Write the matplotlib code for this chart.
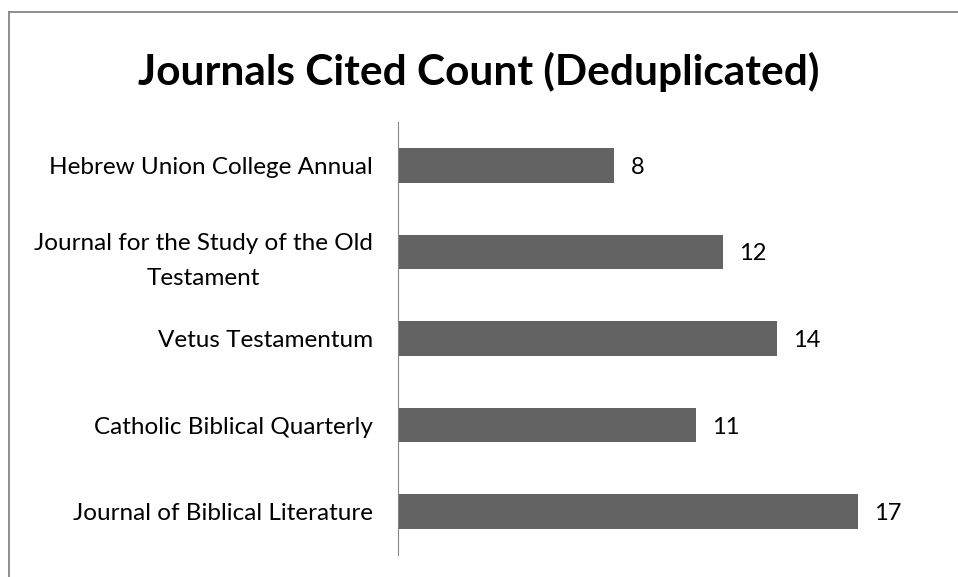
import matplotlib.pyplot as plt
from matplotlib.lines import Line2D

# Journal counts, bottom to top as drawn
journals = ['Journal of Biblical Literature',
            'Catholic Biblical Quarterly',
            'Vetus Testamentum',
            'Journal for the Study of the Old\nTestament',
            'Hebrew Union College Annual']
counts = [17, 11, 14, 12, 8]

plt.rcParams['font.family'] = ['Lato', 'DejaVu Sans']

fig = plt.figure(figsize=(9.58, 5.77), dpi=100)
ax = fig.add_axes([398 / 958, 22 / 577, 500 / 958, 433 / 577])

ypos = list(range(len(journals)))
ax.barh(ypos, counts, height=0.4, color='#636363')
for y, v in zip(ypos, counts):
    ax.text(v + 0.6, y, str(v), va='center_baseline', ha='left', fontsize=17, color='#000000')

ax.set_xlim(0, 500 / 27.06)
ax.set_ylim(-0.5, len(journals) - 0.5)
ax.set_yticks(ypos)
ax.set_yticklabels(journals, fontsize=17.5, ha='right', multialignment='center', linespacing=1.85)
ax.tick_params(axis='y', length=0, pad=18)
ax.set_xticks([])
for s in ['top', 'right', 'bottom']:
    ax.spines[s].set_visible(False)
ax.spines['left'].set_color('#868686')

fig.text(0.5, 1 - 72 / 577, 'Journals Cited Count (Deduplicated)', ha='center', va='center',
         fontsize=30.5, fontweight='bold')

# outer chart border (only top and left fall inside the image)
fig.lines.append(Line2D([9 / 958, 1], [1 - 11.5 / 577] * 2, transform=fig.transFigure,
                        color='#868686', linewidth=1.3))
fig.lines.append(Line2D([9 / 958] * 2, [0, 1 - 11.5 / 577], transform=fig.transFigure,
                        color='#868686', linewidth=1.3))

fig.savefig('out.png', dpi=100)
